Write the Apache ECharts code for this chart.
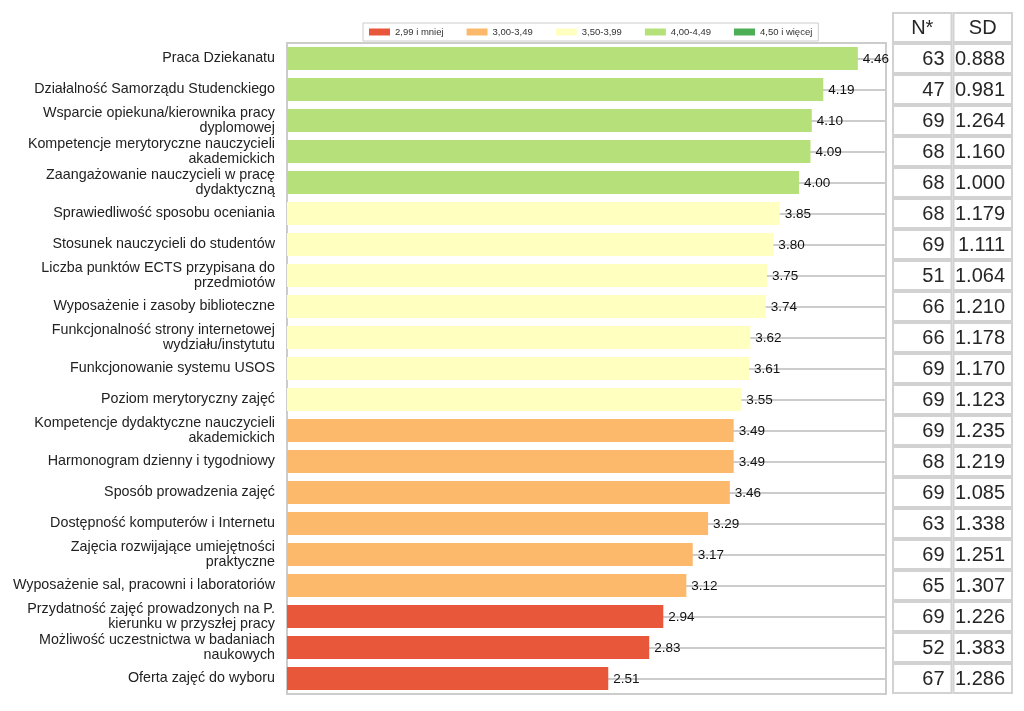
<!DOCTYPE html>
<html>
<head>
<meta charset="utf-8">
<script src="https://cdn.jsdelivr.net/npm/echarts@6/dist/echarts.min.js"></script>
<style>html,body{margin:0;padding:0;background:#fff;}#c{width:1024px;height:711px;}</style>
</head>
<body>
<div id="c"></div>
<script>
var categories = [
  "Praca Dziekanatu",
  "Działalność Samorządu Studenckiego",
  "Wsparcie opiekuna/kierownika pracy\ndyplomowej",
  "Kompetencje merytoryczne nauczycieli\nakademickich",
  "Zaangażowanie nauczycieli w pracę\ndydaktyczną",
  "Sprawiedliwość sposobu oceniania",
  "Stosunek nauczycieli do studentów",
  "Liczba punktów ECTS przypisana do\nprzedmiotów",
  "Wyposażenie i zasoby biblioteczne",
  "Funkcjonalność strony internetowej\nwydziału/instytutu",
  "Funkcjonowanie systemu USOS",
  "Poziom merytoryczny zajęć",
  "Kompetencje dydaktyczne nauczycieli\nakademickich",
  "Harmonogram dzienny i tygodniowy",
  "Sposób prowadzenia zajęć",
  "Dostępność komputerów i Internetu",
  "Zajęcia rozwijające umiejętności\npraktyczne",
  "Wyposażenie sal, pracowni i laboratoriów",
  "Przydatność zajęć prowadzonych na P.\nkierunku w przyszłej pracy",
  "Możliwość uczestnictwa w badaniach\nnaukowych",
  "Oferta zajęć do wyboru"
];
var means = [4.46, 4.19, 4.10, 4.09, 4.00, 3.85, 3.80, 3.75, 3.74, 3.62, 3.61, 3.55, 3.49, 3.49, 3.46, 3.29, 3.17, 3.12, 2.94, 2.83, 2.51];
var nValues = [63, 47, 69, 68, 68, 68, 69, 51, 66, 66, 69, 69, 69, 68, 69, 63, 69, 65, 69, 52, 67];
var sdValues = [0.888, 0.981, 1.264, 1.160, 1.000, 1.179, 1.111, 1.064, 1.210, 1.178, 1.170, 1.123, 1.235, 1.219, 1.085, 1.338, 1.251, 1.307, 1.226, 1.383, 1.286];
var tableHeader = ["N*", "SD"];
var groupNames = ["2,99 i mniej", "3,00-3,49", "3,50-3,99", "4,00-4,49", "4,50 i więcej"];
var groupLower = [-Infinity, 3.0, 3.5, 4.0, 4.5];
var groupColors = ["#E8573A", "#FDB96B", "#FFFFC0", "#B5E07A", "#4DAF55"];

var FONT = 'Arial, "Liberation Sans", sans-serif';

function groupOf(v) {
  var g = 0;
  for (var i = 0; i < groupLower.length; i++) if (v >= groupLower[i]) g = i;
  return g;
}

var barSeries = groupNames.map(function (name, gi) {
  var s = {
    name: name,
    type: 'bar',
    stack: 'm',
    xAxisIndex: 0,
    yAxisIndex: 0,
    barCategoryGap: '26%',
    z: 2,
    itemStyle: { color: groupColors[gi] },
    label: {
      show: true,
      position: 'right',
      distance: 5,
      offset: [0, 1],
      fontSize: 13.5,
      fontFamily: FONT,
      color: '#111',
      formatter: function (p) { return Number(p.value).toFixed(2); }
    },
    data: means.map(function (v) { return groupOf(v) === gi ? v : '-'; })
  };
  if (gi === 0) {
    s.markLine = {
      z: 1,
      silent: true,
      symbol: ['none', 'none'],
      label: { show: false },
      lineStyle: { color: '#cccccc', width: 2, type: 'solid' },
      data: categories.map(function (c) { return { yAxis: c }; })
    };
  }
  return s;
});

// table cells
var tableRows = [''].concat(categories);
var tableData = [];
var tableText = [];
tableHeader.forEach(function (h, ci) { tableData.push([ci, 0]); tableText.push(h); });
for (var i = 0; i < categories.length; i++) {
  tableData.push([0, i + 1]); tableText.push(String(nValues[i]));
  tableData.push([1, i + 1]); tableText.push(sdValues[i].toFixed(3));
}

var tableSeries = {
  type: 'custom',
  xAxisIndex: 1,
  yAxisIndex: 1,
  silent: true,
  data: tableData,
  renderItem: function (params, api) {
    var c = api.coord([api.value(0), api.value(1)]);
    var s = api.size([1, 1]);
    var header = api.value(1) === 0;
    return {
      type: 'group',
      children: [
        {
          type: 'rect',
          shape: { x: c[0] - s[0] / 2 + 1, y: c[1] - s[1] / 2 + 1, width: s[0] - 2, height: s[1] - 2 },
          style: { fill: '#fff', stroke: '#d2d2d2', lineWidth: 2 }
        },
        {
          type: 'text',
          style: {
            x: header ? c[0] : c[0] + s[0] / 2 - 8,
            y: c[1] + 1,
            text: tableText[params.dataIndex],
            textAlign: header ? 'center' : 'right',
            textVerticalAlign: 'middle',
            fontSize: 20,
            fontFamily: FONT,
            fill: '#262626'
          }
        }
      ]
    };
  }
};

var chart = echarts.init(document.getElementById('c'), null, { renderer: 'canvas' });
chart.setOption({
  animation: false,
  backgroundColor: '#fff',
  legend: {
    data: groupNames,
    left: 363,
    top: 23,
    padding: [4, 6],
    itemGap: 23,
    itemWidth: 21,
    itemHeight: 7,
    icon: 'rect',
    borderColor: '#cccccc',
    borderWidth: 1,
    textStyle: { fontSize: 9.5, fontFamily: FONT, color: '#333' },
    selectedMode: false
  },
  grid: [
    { left: 287, right: 138, top: 43, bottom: 17, show: true, borderColor: '#cccccc', borderWidth: 2, backgroundColor: 'transparent' },
    { left: 892, right: 11, top: 12, bottom: 17 }
  ],
  xAxis: [
    { gridIndex: 0, type: 'value', min: 0, max: 4.68, show: false, splitLine: { show: false } },
    { gridIndex: 1, type: 'category', data: tableHeader, show: false }
  ],
  yAxis: [
    {
      gridIndex: 0, type: 'category', data: categories, inverse: true,
      axisLine: { show: false }, axisTick: { show: false }, splitLine: { show: false },
      axisLabel: { fontSize: 14.3, fontFamily: FONT, color: '#222', margin: 12, lineHeight: 15, align: 'right', padding: [3, 0, 0, 0] }
    },
    { gridIndex: 1, type: 'category', data: tableRows, inverse: true, show: false }
  ],
  series: barSeries.concat([tableSeries])
});
</script>
</body>
</html>
